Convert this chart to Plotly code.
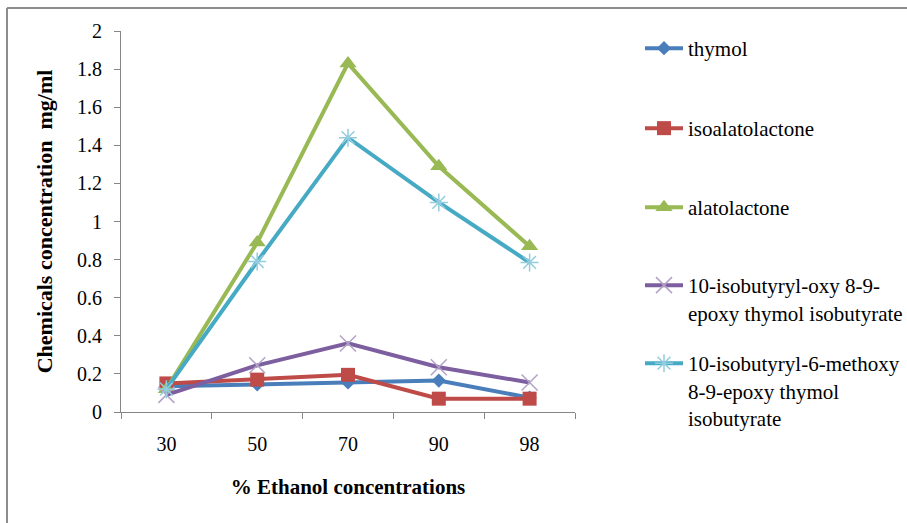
import plotly.graph_objects as go

# Ethanol concentration categories (%)
ethanol = ["30", "50", "70", "90", "98"]

# Measured concentrations (mg/ml)
thymol = [0.135, 0.145, 0.155, 0.165, 0.075]
isoalatolactone = [0.15, 0.17, 0.195, 0.07, 0.07]
alatolactone = [0.12, 0.89, 1.83, 1.29, 0.87]
epoxy_isobutyrate = [0.09, 0.245, 0.36, 0.235, 0.155]
methoxy_isobutyrate = [0.12, 0.79, 1.44, 1.1, 0.785]

y_ticks = [0, 0.2, 0.4, 0.6, 0.8, 1, 1.2, 1.4, 1.6, 1.8, 2]

FONT = "Times New Roman"
W, H = 907, 523
L, R, T, B = 121, 575, 31, 412  # plot area in pixels


def px_x(x):
    return (x - L) / (R - L)


def px_y(y):
    return (B - y) / (B - T)


series = [
    dict(name="thymol", y=thymol, color="#4A7EBB",
         marker=dict(symbol="diamond", size=11, color="#4A7EBB"), first_line=48),
    dict(name="isoalatolactone", y=isoalatolactone, color="#BE4B48",
         marker=dict(symbol="square", size=14, color="#BE4B48"), first_line=128),
    dict(name="alatolactone", y=alatolactone, color="#98B954",
         marker=dict(symbol="triangle-up", size=15, color="#98B954"), first_line=207),
    dict(name="10-isobutyryl-oxy 8-9-<br>epoxy thymol isobutyrate", y=epoxy_isobutyrate,
         color="#7D5FA0",
         marker=dict(symbol="x-thin", size=16, color="#B3A2C7",
                     line=dict(color="#B3A2C7", width=1.5)), first_line=285),
    dict(name="10-isobutyryl-6-methoxy<br>8-9-epoxy thymol<br>isobutyrate", y=methoxy_isobutyrate,
         color="#46AAC5",
         marker=dict(symbol="asterisk-open", size=15, color="#93CDDD",
                     line=dict(color="#93CDDD", width=1.5)), first_line=363),
]

fig = go.Figure()
layout_legends = {}
for i, s in enumerate(series):
    key = "legend" if i == 0 else f"legend{i + 1}"
    fig.add_trace(go.Scatter(
        x=ethanol, y=s["y"], name=s["name"], mode="lines+markers",
        line=dict(color=s["color"], width=4),
        marker=s["marker"], legend=key,
    ))
    layout_legends[key] = dict(
        x=px_x(640), xanchor="left",
        y=px_y(s["first_line"] - 20), yanchor="top",
        valign="top", bgcolor="rgba(0,0,0,0)", borderwidth=0,
        font=dict(family=FONT, size=21, color="#000000"),
        tracegroupgap=0, itemwidth=38,
    )

fig.update_layout(
    width=W, height=H,
    margin=dict(l=L, r=W - R, t=T, b=H - B, pad=0, autoexpand=False),
    paper_bgcolor="white", plot_bgcolor="white",
    font=dict(family=FONT, size=20, color="#000000"),
    showlegend=True,
    **layout_legends,
)

fig.update_xaxes(
    type="category", range=[-0.5, 4.5],
    showline=True, linecolor="#868686", linewidth=1,
    ticks="outside", ticklen=6, tickcolor="#868686", tickson="boundaries",
    ticklabelstandoff=14,
    showgrid=False, zeroline=False,
    tickfont=dict(family=FONT, size=20, color="#000000"),
    title=dict(text="<b>% Ethanol concentrations</b>", standoff=25,
               font=dict(family=FONT, size=21, color="#000000")),
)
fig.update_yaxes(
    range=[0, 2], tickvals=y_ticks,
    showline=True, linecolor="#868686", linewidth=1,
    ticks="outside", ticklen=6, tickcolor="#868686",
    ticklabelstandoff=8,
    showgrid=False, zeroline=False,
    tickfont=dict(family=FONT, size=20, color="#000000"),
    title=dict(text="<b>Chemicals concentration  mg/ml</b>", standoff=18,
               font=dict(family=FONT, size=22, color="#000000")),
)

# Outer chart-area frame (top and left edges)
frame = dict(color="#8C8C8C", width=2)
fig.add_shape(type="line", xref="paper", yref="paper",
              x0=px_x(7), x1=px_x(W + 5), y0=px_y(8), y1=px_y(8), line=frame)
fig.add_shape(type="line", xref="paper", yref="paper",
              x0=px_x(7), x1=px_x(7), y0=px_y(8), y1=px_y(H + 5), line=frame)

fig.write_html("out.html")
